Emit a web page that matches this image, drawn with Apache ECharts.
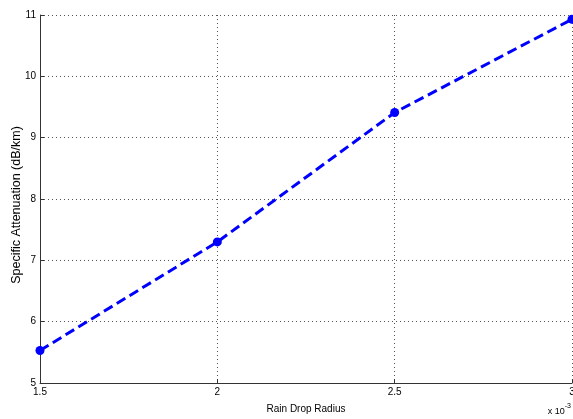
<!DOCTYPE html>
<html>
<head>
<meta charset="utf-8">
<script src="https://cdn.jsdelivr.net/npm/echarts@6/dist/echarts.min.js"></script>
<style>html,body{margin:0;padding:0;background:#fff;}#c{width:573px;height:419px;}</style>
</head>
<body>
<div id="c"></div>
<script>
var radius = [1.5, 2.0, 2.5, 3.0];          // x 10^-3
var attenuation = [5.53, 7.30, 9.41, 10.93]; // dB/km
var xTicks = ['1.5', '2', '2.5', '3'];
var xTitle = 'Rain Drop Radius';
var yTitle = 'Specific Attenuation (dB/km)';
var xScaleNote = 'x 10';
var xScaleExp = '-3';

var chart = echarts.init(document.getElementById('c'), null, {renderer: 'canvas'});
var font = 'Liberation Sans, Arial, sans-serif';
var data = radius.map(function (r, i) { return [r, attenuation[i]]; });
chart.setOption({
  animation: false,
  backgroundColor: '#fff',
  grid: {left: 40, right: 1, top: 15, bottom: 36, containLabel: false, outerBoundsMode: 'none'},
  xAxis: {
    type: 'value', min: 1.5, max: 3, interval: 0.5,
    name: xTitle, nameLocation: 'middle', nameGap: 21,
    nameTextStyle: {fontFamily: font, fontSize: 10, color: '#000'},
    axisLine: {show: true, lineStyle: {color: '#333', width: 1}},
    axisTick: {show: true, inside: true, length: 4, lineStyle: {color: '#333'}},
    axisLabel: {fontFamily: font, fontSize: 10, color: '#000', margin: 4, hideOverlap: false,
      formatter: function (v) { var i = Math.round((v - 1.5) / 0.5); return xTicks[i] || ''; }},
    splitLine: {show: true, lineStyle: {color: '#555', type: [1, 3], width: 1}}
  },
  yAxis: {
    type: 'value', min: 5, max: 11, interval: 1,
    axisLine: {show: true, lineStyle: {color: '#333', width: 1}},
    axisTick: {show: true, inside: true, length: 4, lineStyle: {color: '#333'}},
    axisLabel: {fontFamily: font, fontSize: 10, color: '#000', margin: 4},
    splitLine: {show: true, lineStyle: {color: '#555', type: [1, 3], width: 1}}
  },
  series: [{
    type: 'line', data: data,
    symbol: 'circle', symbolSize: 9,
    itemStyle: {color: '#0000ff'},
    lineStyle: {color: '#0000ff', width: 3, type: [10, 5]},
    clip: false
  }],
  graphic: [{
    type: 'text', x: 17, y: 205, rotation: Math.PI / 2,
    style: {
      text: yTitle, fontFamily: font, fontSize: 12.5, fill: '#000',
      align: 'center', verticalAlign: 'middle'
    }
  }, {
    type: 'text', right: 2, top: 403,
    style: {
      text: '{a|' + xScaleNote + '}{b|' + xScaleExp + '}',
      rich: {
        a: {fontFamily: font, fontSize: 9, fill: '#000', verticalAlign: 'bottom'},
        b: {fontFamily: font, fontSize: 7, fill: '#000', verticalAlign: 'top', padding: [0, 0, 6, 0]}
      }
    }
  }]
});
</script>
</body>
</html>
